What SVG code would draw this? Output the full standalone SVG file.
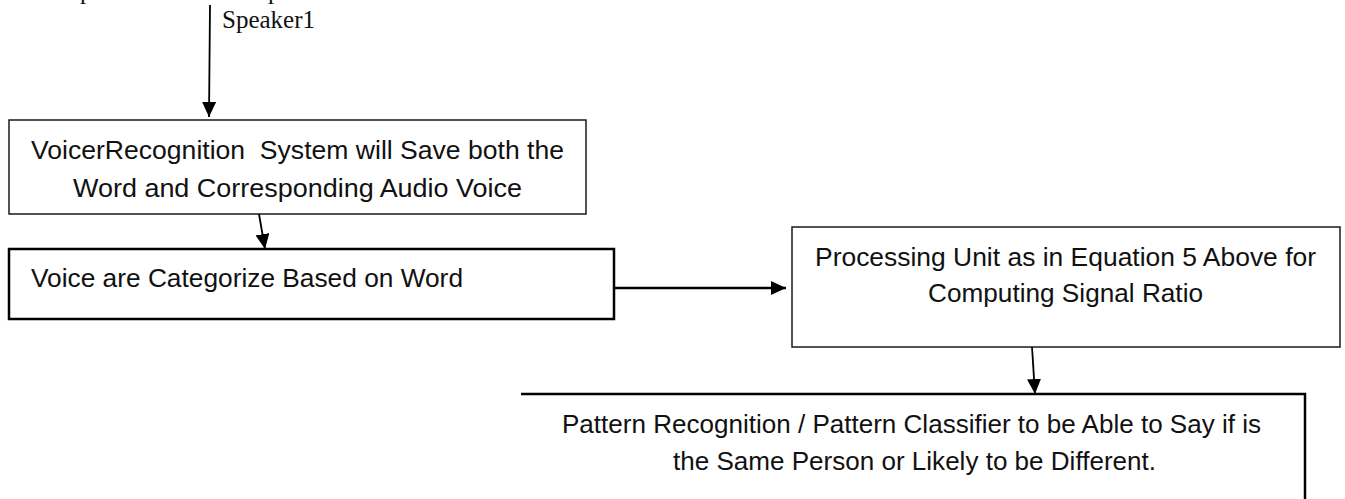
<svg xmlns="http://www.w3.org/2000/svg" width="1345" height="499" viewBox="0 0 1345 499">
  <style>
    .box-thin { fill: #fff; stroke: #1a1a1a; stroke-width: 1.5; }
    .box-bold { fill: #fff; stroke: #000; stroke-width: 2.5; }
    .label { font-family: "Liberation Sans", Arial, sans-serif; font-size: 26.5px; fill: #111; white-space: pre; }
    .serif { font-family: "Liberation Serif", "Times New Roman", serif; font-size: 25px; fill: #111; }
    .edge { fill: none; stroke: #000; stroke-width: 1.8; }
    .edge-bold { fill: none; stroke: #000; stroke-width: 2.5; }
  </style>
  <defs>
    <marker id="head" markerUnits="userSpaceOnUse" markerWidth="15" markerHeight="14" refX="15" refY="7" orient="auto">
      <path d="M0,0 L15,7 L0,14 Z" fill="#000"/>
    </marker>
  </defs>
  <rect width="1345" height="499" fill="#fff"/>

  <!-- text running off the top edge: only descenders remain -->
  <g id="top-text">
    <text class="serif" x="80" y="-1">p</text>
    <text class="serif" x="268" y="-1">p</text>
  </g>

  <g id="speaker-label">
    <text class="serif" x="222" y="28">Speaker1</text>
  </g>

  <g id="save-node">
    <rect class="box-thin" x="9" y="120" width="577" height="94"/>
    <text class="label" x="31" y="159" textLength="533" lengthAdjust="spacingAndGlyphs" xml:space="preserve">VoicerRecognition  System will Save both the</text>
    <text class="label" x="73" y="197" textLength="449" lengthAdjust="spacingAndGlyphs">Word and Corresponding Audio Voice</text>
  </g>

  <g id="categorize-node">
    <rect class="box-bold" x="9" y="249" width="605" height="70"/>
    <text class="label" x="31" y="287" textLength="432" lengthAdjust="spacingAndGlyphs">Voice are Categorize Based on Word</text>
  </g>

  <g id="processing-node">
    <rect class="box-thin" x="792" y="227" width="548" height="120"/>
    <text class="label" x="815" y="266" textLength="501" lengthAdjust="spacingAndGlyphs">Processing Unit as in Equation 5 Above for</text>
    <text class="label" x="928" y="302" textLength="275" lengthAdjust="spacingAndGlyphs">Computing Signal Ratio</text>
  </g>

  <g id="classifier-node">
    <path class="box-bold" d="M521,394 H1305 V505" fill="none"/>
    <text class="label" x="562" y="433" textLength="699" lengthAdjust="spacingAndGlyphs">Pattern Recognition / Pattern Classifier to be Able to Say if is</text>
    <text class="label" x="673" y="470" textLength="483" lengthAdjust="spacingAndGlyphs">the Same Person or Likely to be Different.</text>
  </g>

  <g id="connectors">
    <path class="edge" d="M210,5 L209,117" marker-end="url(#head)"/>
    <path class="edge" d="M259,214 L265,249" marker-end="url(#head)"/>
    <path class="edge-bold" d="M614,288 L786,288" marker-end="url(#head)"/>
    <path class="edge" d="M1032,347 L1035,394" marker-end="url(#head)"/>
  </g>
</svg>
